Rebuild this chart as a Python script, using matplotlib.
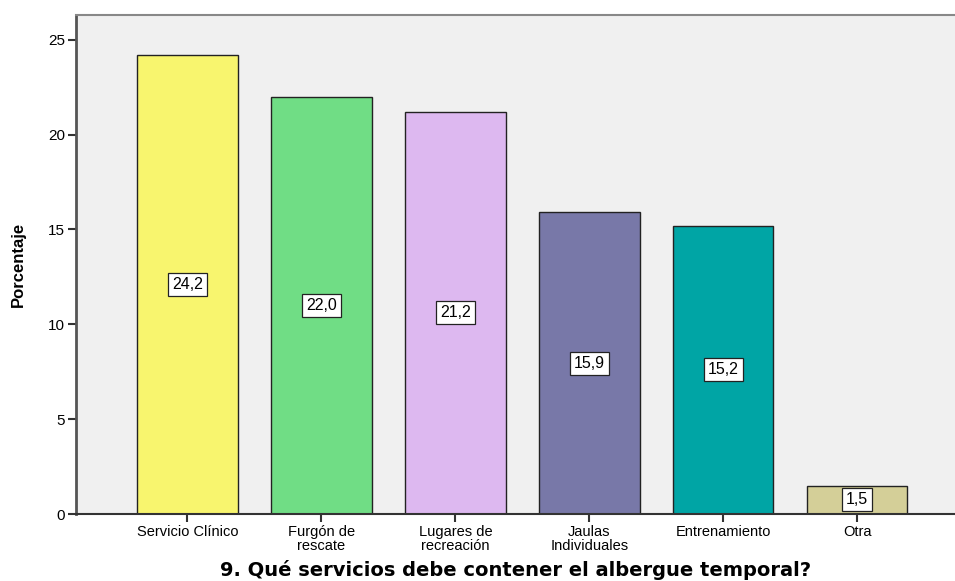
import matplotlib
matplotlib.use("Agg")
import matplotlib.pyplot as plt

categories = ["Servicio Clínico", "Furgón de\nrescate", "Lugares de\nrecreación",
              "Jaulas\nIndividuales", "Entrenamiento", "Otra"]
values = [24.2, 22.0, 21.2, 15.9, 15.2, 1.5]
value_labels = ["24,2", "22,0", "21,2", "15,9", "15,2", "1,5"]
yticks = [0, 5, 10, 15, 20, 25]
colors = ["#F8F56E", "#70DD85", "#DDB8F0", "#7878A8", "#00A5A5", "#D4CF98"]

fig = plt.figure(figsize=(9.55, 5.81), dpi=100)
ax = fig.add_axes([76 / 955, 67 / 581, 1 - 76 / 955, 499 / 581])
ax.set_facecolor("#F0F0F0")

x = list(range(len(categories)))
ax.bar(x, values, width=0.75, color=colors, edgecolor="#222222", linewidth=1.0, zorder=2)

for xi, v, lab in zip(x, values, value_labels):
    ax.text(xi, v / 2, lab, ha="center", va="center", fontsize=11.5, zorder=3,
            family="Liberation Sans",
            bbox=dict(boxstyle="square,pad=0.25", fc="white", ec="#222222", lw=0.9))

ax.set_xlim(-0.832, 5.73)
ax.set_ylim(0, 26.3)
ax.set_xticks(x)
ax.set_xticklabels(categories, fontsize=10.5, linespacing=1.0, family="Liberation Sans")
ax.set_yticks(yticks)
ax.set_yticklabels([str(t) for t in yticks], fontsize=11, family="Liberation Sans")
ax.tick_params(axis="both", direction="out", length=6, width=1.5, color="#333333")
ax.tick_params(axis="x", pad=2)
ax.tick_params(axis="y", pad=2)

ax.spines["right"].set_visible(False)
ax.spines["top"].set_color("#888888")
ax.spines["top"].set_linewidth(1.5)
ax.spines["left"].set_color("#555555")
ax.spines["left"].set_linewidth(2)
ax.spines["bottom"].set_color("#333333")
ax.spines["bottom"].set_linewidth(1.5)

ax.set_ylabel("Porcentaje", fontsize=12, fontweight="bold", family="Liberation Sans", labelpad=16)
ax.set_xlabel("9. Qué servicios debe contener el albergue temporal?", fontsize=14,
              fontweight="bold", labelpad=5)

fig.savefig("out.png", dpi=100)
